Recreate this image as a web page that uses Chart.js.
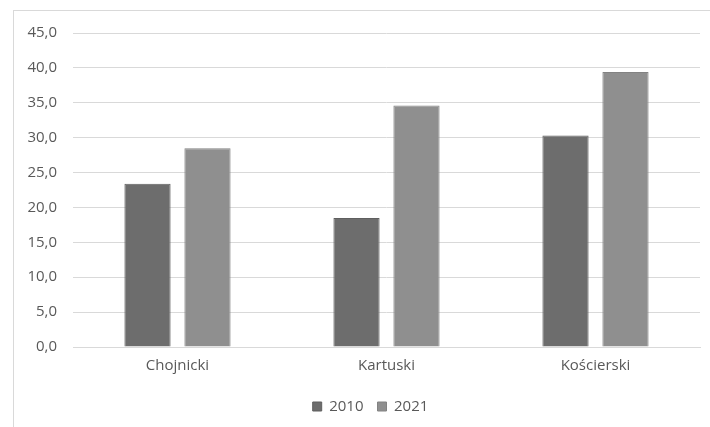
<!DOCTYPE html>
<html>
<head>
<meta charset="utf-8">
<script src="https://cdn.jsdelivr.net/npm/chart.js@4"></script>
<style>
  html, body { margin: 0; padding: 0; background: #fff; overflow: hidden; }
  #wrap { position: relative; width: 710px; height: 427px; }
  #frame { position: absolute; left: 13px; top: 10px; width: 720px; height: 450px; border: 1px solid #d9d9d9; }
  #chart { position: absolute; left: 0; top: 0; }
</style>
</head>
<body>
<div id="wrap">
  <div id="frame"></div>
  <canvas id="chart" width="710" height="427"></canvas>
</div>
<script>
// powiaty i wartości dla dwóch lat
const powiaty = ["Chojnicki", "Kartuski", "Kościerski"];
const lata = ["2010", "2021"];
const wartosci2010 = [23.4, 18.5, 30.3];
const wartosci2021 = [28.5, 34.6, 39.4];
const kolory = ["#6d6d6d", "#8f8f8f"];

const fontTxt = { family: "'Open Sans', 'Noto Sans', sans-serif", size: 15 };

// legenda przesunięta nieco w prawo, jak w ramce wykresu
const przesunLegende = {
  id: "przesunLegende",
  afterLayout(chart) {
    chart.legend.left += 14;
    chart.legend.right += 14;
  }
};

new Chart(document.getElementById("chart"), {
  type: "bar",
  data: {
    labels: powiaty,
    datasets: [
      { label: lata[0], data: wartosci2010, backgroundColor: kolory[0], borderColor: "#5f5f5f", borderWidth: 1 },
      { label: lata[1], data: wartosci2021, backgroundColor: kolory[1], borderColor: "#828282", borderWidth: 1 }
    ]
  },
  plugins: [przesunLegende],
  options: {
    responsive: false,
    animation: false,
    categoryPercentage: 0.574,
    barPercentage: 0.77,
    layout: { padding: { left: 13, right: 10, top: 33, bottom: 3 } },
    plugins: {
      tooltip: { enabled: false },
      legend: {
        position: "bottom",
        labels: {
          boxWidth: 9,
          boxHeight: 9,
          padding: 14,
          color: "#595959",
          font: fontTxt
        }
      }
    },
    scales: {
      x: {
        grid: { display: false, drawTicks: false },
        border: { color: "#d9d9d9" },
        ticks: { color: "#595959", font: fontTxt, padding: 10 }
      },
      y: {
        min: 0,
        max: 45,
        afterFit: s => { s.width = 60; },
        grid: { color: "#d9d9d9", drawTicks: false },
        border: { display: false },
        ticks: {
          stepSize: 5,
          padding: 16,
          color: "#595959",
          font: fontTxt,
          callback: v => v.toFixed(1).replace(".", ",")
        }
      }
    }
  }
});
</script>
</body>
</html>
